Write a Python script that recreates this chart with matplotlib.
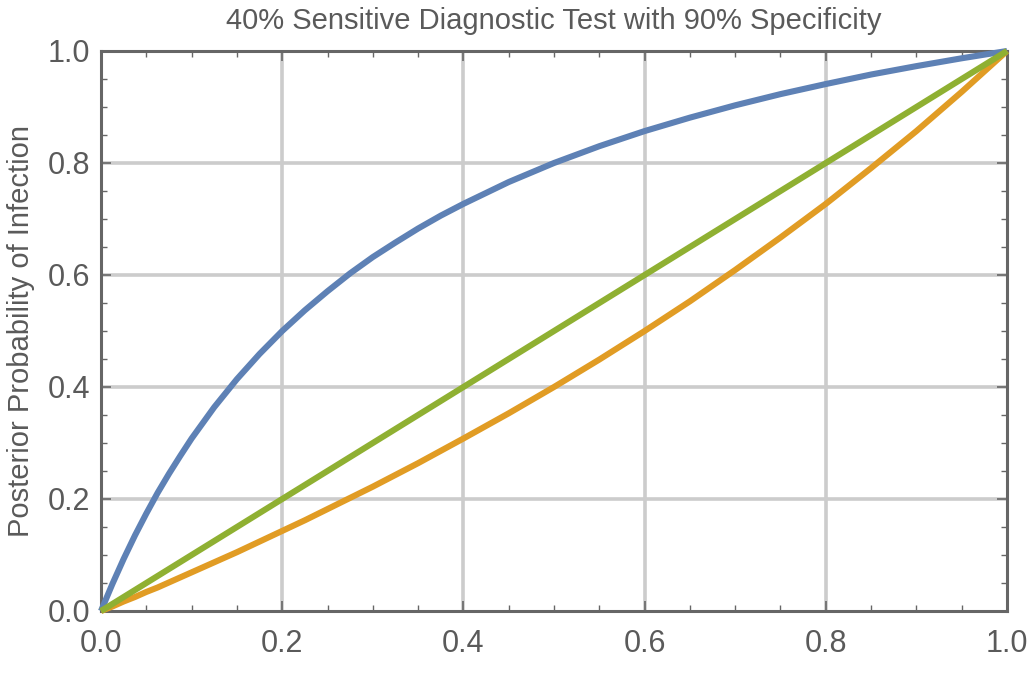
import numpy as np
import matplotlib.pyplot as plt

# prior probability of infection (x) and posterior probabilities
prior = [0.0, 0.0125, 0.025, 0.0375, 0.05, 0.0625, 0.075, 0.0875, 0.1, 0.125, 0.15, 0.175,
         0.2, 0.225, 0.25, 0.275, 0.3, 0.325, 0.35, 0.375, 0.4, 0.45, 0.5, 0.55, 0.6, 0.65,
         0.7, 0.75, 0.8, 0.85, 0.9, 0.95, 1.0]
post_positive = [0.0, 0.048, 0.093, 0.135, 0.174, 0.211, 0.245, 0.277, 0.308, 0.364, 0.414,
                 0.459, 0.500, 0.537, 0.571, 0.603, 0.632, 0.658, 0.683, 0.706, 0.727, 0.766,
                 0.800, 0.830, 0.857, 0.881, 0.903, 0.923, 0.941, 0.958, 0.973, 0.987, 1.0]
post_negative = [0.0, 0.008, 0.017, 0.025, 0.034, 0.042, 0.051, 0.060, 0.069, 0.087, 0.105,
                 0.124, 0.143, 0.162, 0.182, 0.202, 0.222, 0.243, 0.264, 0.286, 0.308, 0.353,
                 0.400, 0.449, 0.500, 0.553, 0.609, 0.667, 0.727, 0.791, 0.857, 0.927, 1.0]
no_test = [0.0, 1.0]
no_test_x = [0.0, 1.0]

blue = '#5E81B5'
orange = '#E19C24'
green = '#8FB032'
gray = '#666666'
text_gray = '#5a5a5a'

plt.rcParams['font.family'] = ['Liberation Sans', 'DejaVu Sans']

fig = plt.figure(figsize=(10.29, 6.75), dpi=100)
ax = fig.add_axes([101 / 1029, 1 - 611 / 675, 906 / 1029, 560 / 675])

ax.plot(prior, post_positive, color=blue, lw=4.4, clip_on=False, zorder=3, solid_capstyle='butt')
ax.plot(prior, post_negative, color=orange, lw=4.4, clip_on=False, zorder=3, solid_capstyle='butt')
ax.plot(no_test_x, no_test, color=green, lw=4.4, clip_on=False, zorder=3, solid_capstyle='butt')

ax.set_xlim(0, 1)
ax.set_ylim(0, 1)
ticks = np.arange(0, 1.01, 0.2)
ax.set_xticks(ticks)
ax.set_yticks(ticks)
ax.set_xticklabels(['%.1f' % t for t in ticks])
ax.set_yticklabels(['%.1f' % t for t in ticks])
ax.set_xticks(np.arange(0, 1.001, 0.05), minor=True)
ax.set_yticks(np.arange(0, 1.001, 0.05), minor=True)

for v in [0.2, 0.4, 0.6, 0.8]:
    ax.axvline(v, color='#cccccc', lw=2.6, zorder=1)
    ax.axhline(v, color='#cccccc', lw=2.6, zorder=1)

ax.tick_params(which='both', direction='in', top=True, right=True, colors=gray,
               labelcolor=text_gray, labelsize=22)
ax.tick_params(which='major', length=7, width=1.2, pad=8)
ax.tick_params(which='minor', length=4, width=1.0)
ax.tick_params(axis='x', which='major', pad=13)
ax.tick_params(axis='x', which='both', labeltop=False)
ax.tick_params(axis='y', which='both', labelright=False)

for s in ax.spines.values():
    s.set_color(gray)
    s.set_linewidth(2.2)

ax.set_title('40% Sensitive Diagnostic Test with 90% Specificity', fontsize=21,
             color=text_gray, pad=16)
ax.set_ylabel('Posterior Probability of Infection', fontsize=21, color=text_gray, labelpad=9)

fig.savefig('out.png', dpi=100)
